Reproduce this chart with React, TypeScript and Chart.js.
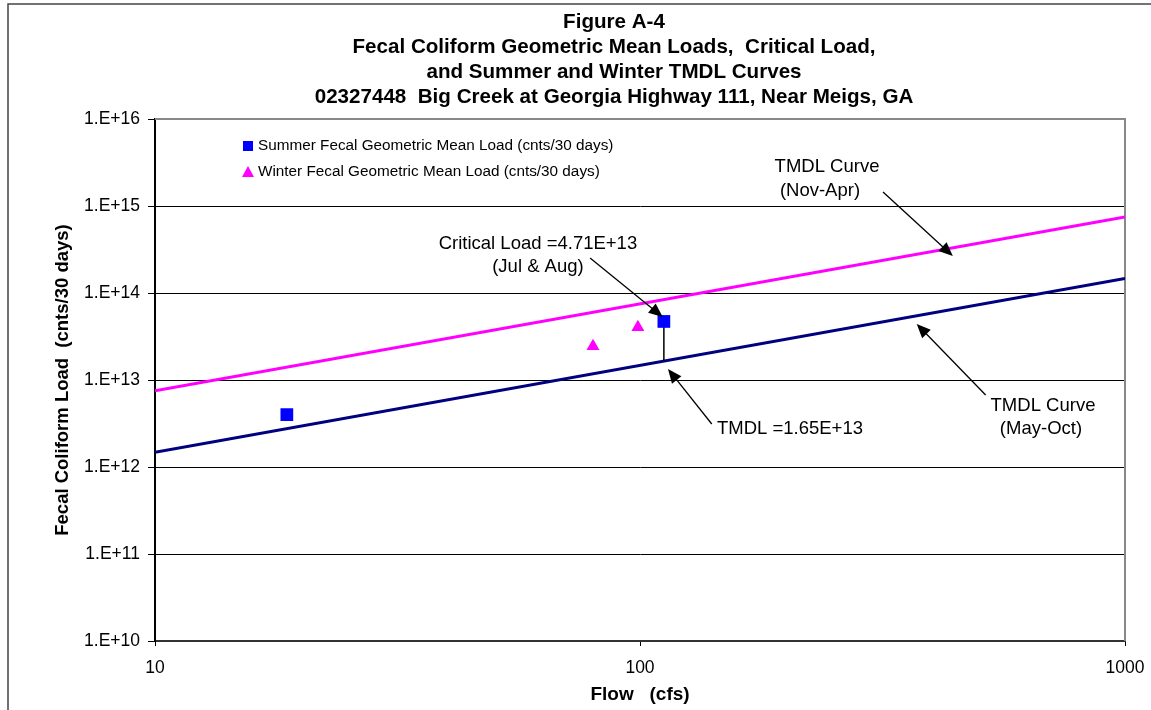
import React, { useEffect, useRef } from "react";
import { Chart, registerables } from "chart.js";

Chart.register(...registerables);

const FONT = "'Liberation Sans', Arial, Helvetica, sans-serif";

// ---- data ----
const titleLines = [
  "Figure A-4",
  "Fecal Coliform Geometric Mean Loads,  Critical Load,",
  "and Summer and Winter TMDL Curves",
  "02327448  Big Creek at Georgia Highway 111, Near Meigs, GA",
];
const summerFlow = [18.7, 112];
const summerLoad = [4.0e12, 4.71e13];
const winterFlow = [80, 99];
const winterLoad = [2.45e13, 4.05e13];
const curveFlow = [10, 1000];
const summerCurveLoad = [1.473e12, 1.473e14];
const winterCurveLoad = [7.5e12, 7.5e14];
const criticalFlow = [112, 112];
const criticalLoad = [4.71e13, 1.65e13];
const yTicks = [1e10, 1e11, 1e12, 1e13, 1e14, 1e15, 1e16];
const xTicks = [10, 100, 1000];
const legendLabels = [
  "Summer Fecal Geometric Mean Load (cnts/30 days)",
  "Winter Fecal Geometric Mean Load (cnts/30 days)",
];

// annotation texts (anchored in data coordinates)
const noteTexts: { text: string; x: number; y: number; align: CanvasTextAlign }[] = [
  { text: "Critical Load =4.71E+13", x: 61.6, y: 3.66e14, align: "center" },
  { text: "(Jul & Aug)", x: 61.6, y: 1.99e14, align: "center" },
  { text: "TMDL =1.65E+13", x: 144.1, y: 2.74e12, align: "left" },
  { text: "TMDL Curve", x: 243, y: 2.81e15, align: "center" },
  { text: "(Nov-Apr)", x: 235, y: 1.49e15, align: "center" },
  { text: "TMDL Curve", x: 677.5, y: 5.02e12, align: "center" },
  { text: "(May-Oct)", x: 671, y: 2.74e12, align: "center" },
];
// arrows: [tailX, tailY, tipX, tipY] in data coordinates
const noteArrows: number[][] = [
  [78.9, 2.52e14, 111.4, 5.3e13],
  [140.6, 3.12e12, 114.2, 1.34e13],
  [317, 1.45e15, 441.6, 2.66e14],
  [516, 6.73e12, 372, 4.41e13],
];

const pts = (xs: number[], ys: number[]) => xs.map((x, i) => ({ x, y: ys[i] }));

function drawArrow(ctx: CanvasRenderingContext2D, x1: number, y1: number, x2: number, y2: number) {
  const ang = Math.atan2(y2 - y1, x2 - x1);
  const len = 14;
  const hw = 6;
  ctx.save();
  ctx.strokeStyle = "#000";
  ctx.fillStyle = "#000";
  ctx.lineWidth = 1.3;
  ctx.beginPath();
  ctx.moveTo(x1, y1);
  ctx.lineTo(x2 - Math.cos(ang) * len * 0.8, y2 - Math.sin(ang) * len * 0.8);
  ctx.stroke();
  ctx.beginPath();
  ctx.moveTo(x2, y2);
  ctx.lineTo(x2 - Math.cos(ang) * len - Math.sin(ang) * hw, y2 - Math.sin(ang) * len + Math.cos(ang) * hw);
  ctx.lineTo(x2 - Math.cos(ang) * len + Math.sin(ang) * hw, y2 - Math.sin(ang) * len - Math.cos(ang) * hw);
  ctx.closePath();
  ctx.fill();
  ctx.restore();
}

const decor = {
  id: "decor",
  beforeDatasetsDraw(chart: any) {
    const { ctx, chartArea } = chart;
    const { left, top, right, bottom } = chartArea;
    ctx.save();
    ctx.strokeStyle = "#888";
    ctx.lineWidth = 2;
    ctx.beginPath();
    ctx.moveTo(left, top);
    ctx.lineTo(right, top);
    ctx.lineTo(right, bottom);
    ctx.stroke();
    ctx.restore();
  },
  afterDraw(chart: any) {
    const { ctx, chartArea, scales } = chart;
    const { left, top } = chartArea;
    ctx.save();
    // outer frame
    ctx.strokeStyle = "#444";
    ctx.lineWidth = 1.5;
    ctx.beginPath();
    ctx.moveTo(8, 710);
    ctx.lineTo(8, 4);
    ctx.lineTo(1151, 4);
    ctx.stroke();

    // title
    ctx.fillStyle = "#000";
    ctx.font = `bold 20.6px ${FONT}`;
    ctx.textAlign = "center";
    ctx.textBaseline = "middle";
    titleLines.forEach((t, i) => ctx.fillText(t, 614, 22 + i * 25));

    // legend
    ctx.font = `15.3px ${FONT}`;
    ctx.textBaseline = "middle";
    ctx.textAlign = "left";
    ctx.fillStyle = "#0000FF";
    ctx.fillRect(left + 88, top + 22, 10, 10);
    ctx.fillStyle = "#000";
    ctx.fillText(legendLabels[0], left + 103, top + 27);
    ctx.fillStyle = "#FF00FF";
    ctx.beginPath();
    ctx.moveTo(left + 93, top + 47);
    ctx.lineTo(left + 99, top + 58);
    ctx.lineTo(left + 87, top + 58);
    ctx.closePath();
    ctx.fill();
    ctx.fillStyle = "#000";
    ctx.fillText(legendLabels[1], left + 103, top + 53);

    // annotation texts
    ctx.font = `18.5px ${FONT}`;
    ctx.fillStyle = "#000";
    for (const n of noteTexts) {
      ctx.textAlign = n.align;
      ctx.fillText(n.text, scales.x.getPixelForValue(n.x), scales.y.getPixelForValue(n.y));
    }
    for (const a of noteArrows) {
      drawArrow(
        ctx,
        scales.x.getPixelForValue(a[0]),
        scales.y.getPixelForValue(a[1]),
        scales.x.getPixelForValue(a[2]),
        scales.y.getPixelForValue(a[3])
      );
    }
    ctx.restore();
  },
};

export default function App() {
  const ref = useRef<HTMLCanvasElement>(null);
  useEffect(() => {
    if (!ref.current) return;
    const chart = new Chart(ref.current, {
      type: "scatter",
      data: {
        datasets: [
          {
            label: "Summer Fecal Geometric Mean Load (cnts/30 days)",
            data: pts(summerFlow, summerLoad),
            pointStyle: "rect",
            pointRadius: 9,
            backgroundColor: "#0000FF",
            borderColor: "#0000FF",
            borderWidth: 0,
            order: 0,
          },
          {
            label: "Winter Fecal Geometric Mean Load (cnts/30 days)",
            data: pts(winterFlow, winterLoad),
            pointStyle: "triangle",
            pointRadius: 7.5,
            backgroundColor: "#FF00FF",
            borderColor: "#FF00FF",
            borderWidth: 0,
            order: 0,
          },
          {
            label: "TMDL Curve (Nov-Apr)",
            data: pts(curveFlow, winterCurveLoad),
            showLine: true,
            borderColor: "#FF00FF",
            borderWidth: 3,
            pointRadius: 0,
            order: 2,
          },
          {
            label: "TMDL Curve (May-Oct)",
            data: pts(curveFlow, summerCurveLoad),
            showLine: true,
            borderColor: "#000080",
            borderWidth: 3,
            pointRadius: 0,
            order: 2,
          },
          {
            label: "Critical",
            data: pts(criticalFlow, criticalLoad),
            showLine: true,
            borderColor: "#000",
            borderWidth: 1.5,
            pointRadius: 0,
            order: 1,
          },
        ],
      },
      options: {
        responsive: false,
        animation: false,
        devicePixelRatio: 1,
        layout: { padding: { top: 119, right: 26, bottom: 0, left: 0 } },
        plugins: {
          legend: { display: false },
          tooltip: { enabled: false },
          title: { display: false },
        },
        scales: {
          x: {
            type: "logarithmic",
            min: 10,
            max: 1000,
            afterBuildTicks: (s: any) => {
              s.ticks = xTicks.map((v) => ({ value: v }));
            },
            afterFit: (s: any) => {
              s.height = 69;
              s.paddingLeft = 0;
              s.paddingRight = 0;
            },
            ticks: {
              callback: (v: any) => String(v),
              color: "#000",
              font: { family: FONT, size: 17.5 },
              padding: 12,
              maxRotation: 0,
              autoSkip: false,
            },
            grid: { drawOnChartArea: false, color: "#000", tickLength: 5 },
            border: { color: "#333", width: 2 },
            title: {
              display: true,
              text: "Flow   (cfs)",
              color: "#000",
              font: { family: FONT, size: 19, weight: "bold" },
              padding: { top: 0, bottom: 4 },
            },
          },
          y: {
            type: "logarithmic",
            min: 1e10,
            max: 1e16,
            afterBuildTicks: (s: any) => {
              s.ticks = yTicks.map((v) => ({ value: v }));
            },
            afterFit: (s: any) => {
              s.width = 155;
              s.paddingTop = 0;
              s.paddingBottom = 0;
            },
            ticks: {
              callback: (v: any) => "1.E+" + Math.round(Math.log10(Number(v))),
              color: "#000",
              font: { family: FONT, size: 17.5 },
              padding: 8,
              autoSkip: false,
            },
            grid: { color: "#000", lineWidth: 1, tickLength: 7 },
            border: { color: "#000", width: 2 },
            title: {
              display: true,
              text: "Fecal Coliform Load  (cnts/30 days)",
              color: "#000",
              font: { family: FONT, size: 18.5, weight: "bold" },
              padding: { top: 52, bottom: 0 },
            },
          },
        },
      },
      plugins: [decor],
    } as any);
    return () => chart.destroy();
  }, []);
  return (
    <div style={{ position: "absolute", left: 0, top: 0, width: 1151, height: 710, background: "#fff" }}>
      <canvas ref={ref} width={1151} height={710} />
    </div>
  );
}
